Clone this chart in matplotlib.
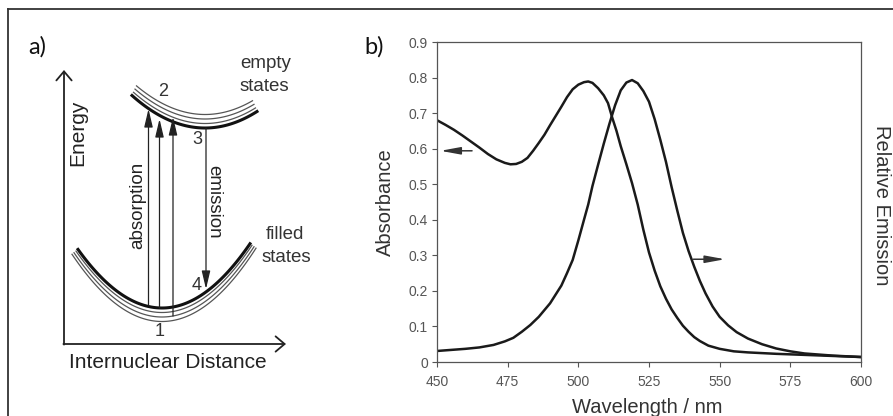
import numpy as np
import matplotlib
matplotlib.use("Agg")
import matplotlib.pyplot as plt

plt.rcParams['font.family'] = ['Liberation Sans', 'DejaVu Sans']

W, H = 893, 416

# panel b data
wl_abs = [450, 453, 456, 459, 462, 465, 468, 471, 474, 476, 478, 480, 482,
          484, 486, 488, 490, 492, 494, 496, 498, 500, 502, 503.5, 505, 507,
          509, 510.5, 512, 513.5, 515, 517, 519, 521, 523, 525, 527, 529,
          531, 533, 535, 537, 539, 541, 543, 546, 550, 555, 560, 570, 580,
          590, 600]
absorbance = [0.680, 0.667, 0.653, 0.637, 0.620, 0.603, 0.585, 0.570, 0.560,
              0.556, 0.557, 0.563, 0.574, 0.594, 0.616, 0.639, 0.666, 0.692,
              0.718, 0.745, 0.767, 0.780, 0.787, 0.789, 0.785, 0.770, 0.750,
              0.728, 0.687, 0.650, 0.607, 0.556, 0.503, 0.443, 0.372, 0.308,
              0.257, 0.213, 0.178, 0.148, 0.124, 0.102, 0.085, 0.070, 0.059,
              0.046, 0.037, 0.030, 0.027, 0.023, 0.020, 0.017, 0.014]

wl_em = [450, 455, 460, 465, 470, 474, 477, 480, 483, 486, 488, 490, 492,
         494, 496, 498, 500, 502, 503.5, 505, 507, 509, 511, 513, 515, 517,
         519, 521, 523, 525, 527, 529, 531, 533, 535, 537, 539, 541, 543,
         545, 547.5, 550, 553, 556, 560, 565, 570, 575, 580, 590, 600]
emission = [0.031, 0.034, 0.037, 0.041, 0.048, 0.058, 0.068, 0.085, 0.104,
            0.127, 0.146, 0.165, 0.190, 0.215, 0.250, 0.287, 0.342, 0.400,
            0.443, 0.495, 0.555, 0.614, 0.670, 0.722, 0.764, 0.786, 0.793,
            0.784, 0.762, 0.732, 0.683, 0.625, 0.563, 0.492, 0.426, 0.363,
            0.312, 0.268, 0.228, 0.193, 0.156, 0.127, 0.103, 0.084, 0.066,
            0.050, 0.038, 0.030, 0.024, 0.018, 0.014]

x_ticks = [450, 475, 500, 525, 550, 575, 600]
y_ticks = [0, 0.1, 0.2, 0.3, 0.4, 0.5, 0.6, 0.7, 0.8, 0.9]
y_labels = ['0', '0.1', '0.2', '0.3', '0.4', '0.5', '0.6', '0.7', '0.8', '0.9']

# panel a diagram (pixel units of the figure)
lower_curve = dict(xc=162, ybot=308, k=0.0083, x0=78, x1=250)
upper_curve = dict(xc=205, ybot=128, k=0.0061, x0=132, x1=257)
abs_x = [148.5, 159.5, 173]
abs_tail = [305, 308, 316]
abs_tip = [109, 119, 117]
em_x, em_tail, em_tip = 206, 128, 289
levels = [('1', 160, 332), ('2', 163, 91), ('3', 197, 139), ('4', 197, 285)]

fig = plt.figure(figsize=(W / 100, H / 100), dpi=100)

ax0 = fig.add_axes([0, 0, 1, 1])
ax0.set_xlim(0, W)
ax0.set_ylim(H, 0)
ax0.axis('off')

# frame lines of the picture
ax0.plot([8, W], [9, 9], color='#333333', lw=1.3)
ax0.plot([8, 8], [9, H], color='#333333', lw=1.3)

# potential curves
for i in range(4):
    x = np.linspace(lower_curve['x0'] - 2 * i, lower_curve['x1'] + 2 * i, 100)
    y = lower_curve['ybot'] + 4.5 * i - lower_curve['k'] * (x - lower_curve['xc']) ** 2
    ax0.plot(x, y, color='#111111' if i == 0 else '#555555', lw=2.2 if i == 0 else 0.9)
for i in range(4):
    x = np.linspace(upper_curve['x0'] + 1.5 * i, upper_curve['x1'] - 1.5 * i, 100)
    y = upper_curve['ybot'] - 4.5 * i - upper_curve['k'] * (x - upper_curve['xc']) ** 2
    ax0.plot(x, y, color='#111111' if i == 0 else '#555555', lw=2.2 if i == 0 else 0.9)

head = dict(arrowstyle='-|>,head_length=1.1,head_width=0.26', mutation_scale=10,
            color='#222222', lw=0.9, shrinkA=0, shrinkB=0)
for xa, yt, yh in zip(abs_x, abs_tail, abs_tip):
    ax0.annotate('', xy=(xa, yh), xytext=(xa, yt), arrowprops=head)
ax0.annotate('', xy=(em_x, em_tip), xytext=(em_x, em_tail), arrowprops=head)

axis_arrow = dict(arrowstyle='->,head_length=0.65,head_width=0.55', mutation_scale=10,
                  color='#222222', lw=1.3, shrinkA=0, shrinkB=0)
ax0.annotate('', xy=(64, 70), xytext=(64, 344.6), arrowprops=axis_arrow)
ax0.annotate('', xy=(286, 344), xytext=(63.4, 344), arrowprops=axis_arrow)

for lab, xl, yl in levels:
    ax0.text(xl, yl, lab, fontsize=13, color='#333333', ha='center', va='center')

ax0.text(78, 133, 'Energy', fontsize=15, rotation=90, ha='center', va='center', color='#222222')
ax0.text(168, 363, 'Internuclear Distance', fontsize=15, ha='center', va='center', color='#222222')
ax0.text(138, 205, 'absorption', fontsize=13.5, rotation=90, ha='center', va='center', color='#222222')
ax0.text(214, 202, 'emission', fontsize=13.5, rotation=270, ha='center', va='center', color='#222222')
ax0.text(240, 68, 'empty', fontsize=13.5, ha='left', va='baseline', color='#333333')
ax0.text(240, 91, 'states', fontsize=13.5, ha='left', va='baseline', color='#333333')
ax0.text(266, 239, 'filled', fontsize=13.5, ha='left', va='baseline', color='#333333')
ax0.text(262, 262, 'states', fontsize=13.5, ha='left', va='baseline', color='#333333')

ax0.text(28, 47, 'a)', fontsize=17, family=['Lato', 'DejaVu Sans'], ha='left', va='center', color='#111111')
ax0.text(364, 47, 'b)', fontsize=17, family=['Lato', 'DejaVu Sans'], ha='left', va='center', color='#111111')

# panel b
ax = fig.add_axes([437 / W, 1 - 362 / H, 424 / W, 320 / H])
ax.set_facecolor('none')
ax.plot(wl_abs, absorbance, color='#1a1a1a', lw=1.8, solid_joinstyle='round')
ax.plot(wl_em, emission, color='#1a1a1a', lw=1.8, solid_joinstyle='round')
ax.set_xlim(450, 600)
ax.set_ylim(0, 0.9)
ax.set_xticks(x_ticks)
ax.set_yticks(y_ticks)
ax.set_yticklabels(y_labels)
for s in ax.spines.values():
    s.set_color('#555555')
    s.set_linewidth(0.9)
ax.tick_params(axis='both', direction='out', length=3.5, width=0.8, color='#555555',
               labelsize=10, labelcolor='#555555')
ax.tick_params(axis='x', pad=6)
ax.tick_params(axis='y', pad=3)

small = dict(arrowstyle='-|>,head_length=1.2,head_width=0.22', mutation_scale=10,
             color='#333333', lw=1.1, shrinkA=0, shrinkB=0)
ax.annotate('', xy=(451.2, 0.594), xytext=(462.4, 0.594), arrowprops=small)
ax.annotate('', xy=(551.9, 0.289), xytext=(540.7, 0.289), arrowprops=small)

ax.text(-0.1226, 0.5, 'Absorbance', transform=ax.transAxes, rotation=90,
        fontsize=14.5, ha='center', va='center', color='#333333')
ax.text(1.0495, 0.49, 'Relative Emission', transform=ax.transAxes, rotation=270,
        fontsize=14.5, ha='center', va='center', color='#333333')
ax.text(0.497, -0.159, 'Wavelength / nm', transform=ax.transAxes,
        fontsize=14.5, ha='center', va='baseline', color='#333333')

fig.savefig('out.png', dpi=100)
